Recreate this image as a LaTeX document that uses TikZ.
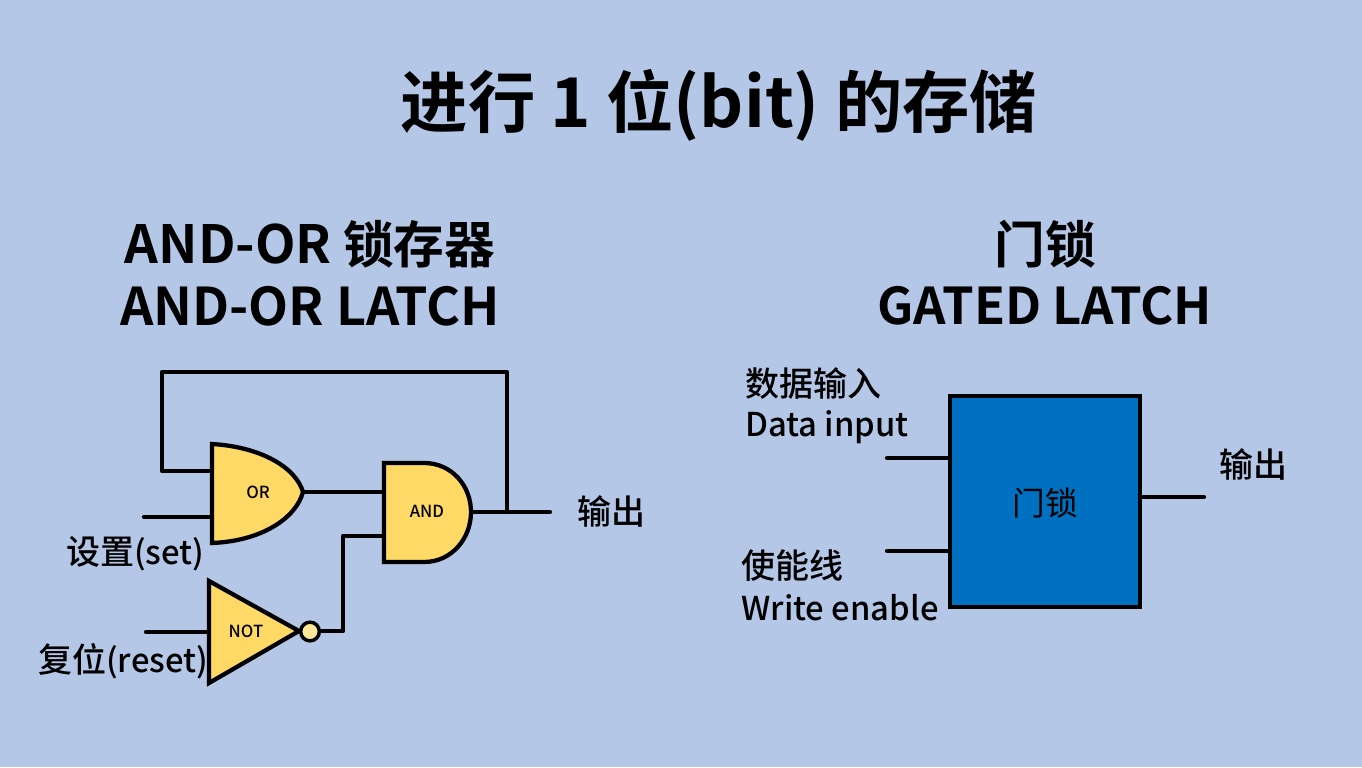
\documentclass[tikz,border=0pt]{standalone}
\usepackage{fontspec}
\setmainfont{Noto Sans CJK SC Medium}
\newfontfamily\cjkbold{Noto Sans CJK SC Bold}
\newcommand{\titlelat}[1]{{\fontsize{51.5}{58}\selectfont #1}}
\newcommand{\headlat}[2]{{\fontsize{#1}{46}\selectfont #2}}
\newcommand{\lablat}[1]{{\fontsize{24.6}{30}\selectfont #1}}
\definecolor{bgblue}{HTML}{B4C7E7}
\definecolor{gatey}{HTML}{FFD966}
\definecolor{bubbley}{HTML}{FFE699}
\definecolor{boxblue}{HTML}{0070C0}
\tikzset{
  wire/.style={line width=3.2pt,black,line cap=round,line join=round},
  gateline/.style={line width=3.2pt,black,fill=gatey,line join=miter},
  title/.style={inner sep=0pt,font=\fontsize{50.5}{58}\cjkbold},
  heading/.style={inner sep=0pt,font=\fontsize{38}{46}\cjkbold,align=center},
  lab/.style={inner sep=0pt,font=\fontsize{25.5}{30}\selectfont,anchor=west},
  gatelab/.style={inner sep=0pt,font=\fontsize{12.5}{14}\selectfont},
}
\begin{document}
\begin{tikzpicture}[x=0.75pt,y=-0.75pt]
\path[fill=bgblue] (0,0) rectangle (1362,767);
\useasboundingbox (0,0) rectangle (1362,767);

\node[title] (t) at (719,105) {进行 \titlelat{1} 位\titlelat{(bit)} 的存储};
\node[heading] (h1a) at (310,244) {\headlat{39.5}{AND-OR} 锁存器};
\node[heading] (h1b) at (310,306) {\headlat{39}{AND-OR LATCH}};
\node[heading] (h2a) at (1045,244) {门锁};
\node[heading] (h2b) at (1045,306) {\headlat{38}{GATED LATCH}};

% named wire ends
\coordinate (orA) at (212,471);
\coordinate (orB) at (212,517);
\coordinate (orOut) at (303,492);
\coordinate (setEnd) at (144,517);
\coordinate (andA) at (384,492);
\coordinate (andB) at (384,536);
\coordinate (andOut) at (471,512);
\coordinate (outEnd) at (550,512);
\coordinate (fb) at (507,512);
\coordinate (fbTop) at (507,372);
\coordinate (fbLeft) at (162,372);
\coordinate (fbDown) at (162,471);
\coordinate (notIn) at (209,632);
\coordinate (resetEnd) at (146,632);
\coordinate (bubOut) at (319,631);
\coordinate (bend1) at (343,631);
\coordinate (bend2) at (343,536);

\draw[wire] (fb) -- (fbTop) -- (fbLeft) -- (fbDown) -- (orA);
\draw[wire] (setEnd) -- (orB);
\draw[wire] (orOut) -- (andA);
\draw[wire] (andOut) -- (outEnd);
\draw[wire] (resetEnd) -- (notIn);
\draw[wire] (bubOut) -- (bend1) -- (bend2) -- (andB);

% OR gate
\draw[gateline] (212,444) .. controls (262,447) and (296,468) .. (303,492)
  .. controls (296,518) and (262,541) .. (212,543) -- cycle;
\node[gatelab] (orLab) at (258,492) {OR};
% AND gate
\draw[gateline] (384,463) -- (424,463) .. controls (452,463) and (471,486) .. (471,512)
  .. controls (471,538) and (452,562) .. (424,562) -- (384,562) -- cycle;
\node[gatelab] (andLab) at (427,511) {AND};
% NOT gate
\draw[gateline] (209,581) -- (299,631) -- (209,683) -- cycle;
\node[gatelab] (notLab) at (246,631) {NOT};
\node[circle,draw=black,line width=2.6pt,fill=bubbley,minimum size=14pt,inner sep=0pt] (bub) at (310,631.5) {};

\node[lab] (setL) at (66,554) {设置\lablat{(set)}};
\node[lab] (resetL) at (38,661) {复位\lablat{(reset)}};
\node[lab] (outL) at (577,511) {输出};

% Gated latch
\node[draw=black,line width=3.2pt,fill=boxblue,minimum width=143pt,minimum height=158pt,inner sep=0pt] (box) at (1045,501.5) {};
\node[inner sep=0pt,font=\fontsize{24.5}{30}\fontspec{Noto Sans CJK SC}] (boxL) at (1045,503) {门锁};
\coordinate (dEnd) at (887,458);
\coordinate (dIn) at (948,458);
\coordinate (wEnd) at (887,551);
\coordinate (wIn) at (948,551);
\coordinate (qIn) at (1142,497);
\coordinate (qEnd) at (1204,497);
\draw[wire] (dEnd) -- (dIn);
\draw[wire] (wEnd) -- (wIn);
\draw[wire] (qIn) -- (qEnd);
\node[lab] (d1) at (745,384) {数据输入};
\node[lab] (d2) at (745,427) {\lablat{Data input}};
\node[lab] (w1) at (741,566) {使能线};
\node[lab] (w2) at (741,608) {\lablat{Write enable}};
\node[lab] (q) at (1219,464) {输出};
\end{tikzpicture}
\end{document}
